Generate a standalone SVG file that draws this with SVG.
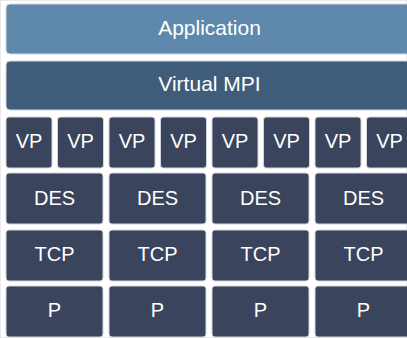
<svg xmlns="http://www.w3.org/2000/svg" width="407" height="338" viewBox="0 0 407 338">
<style>
rect{stroke:#d3d6dc;stroke-width:1}
.app{fill:#5E89AD}
.mpi{fill:#3F5D7A}
.blk{fill:#3A445C}
text{font-family:"Liberation Sans",Arial,Helvetica,sans-serif;fill:#ffffff;text-anchor:middle}
.big{font-size:21px}
.sm{font-size:20px}
</style>
<rect width="407" height="338" fill="#ffffff" stroke="none"/>
<g id="application"><rect class="app" x="6" y="4" width="407" height="50" rx="4"/><text class="big" x="209.5" y="34.5">Application</text></g>
<g id="virtual-mpi"><rect class="mpi" x="6" y="61" width="407" height="49" rx="4"/><text class="big" x="209.5" y="91">Virtual MPI</text></g>
<g id="vp1"><rect class="blk" x="6" y="117" width="46" height="51" rx="3"/><text class="sm" x="29" y="148">VP</text></g>
<g id="vp2"><rect class="blk" x="57.5" y="117" width="46" height="51" rx="3"/><text class="sm" x="80.5" y="148">VP</text></g>
<g id="vp3"><rect class="blk" x="109" y="117" width="46" height="51" rx="3"/><text class="sm" x="132" y="148">VP</text></g>
<g id="vp4"><rect class="blk" x="160.5" y="117" width="46" height="51" rx="3"/><text class="sm" x="183.5" y="148">VP</text></g>
<g id="vp5"><rect class="blk" x="212" y="117" width="46" height="51" rx="3"/><text class="sm" x="235" y="148">VP</text></g>
<g id="vp6"><rect class="blk" x="263.5" y="117" width="46" height="51" rx="3"/><text class="sm" x="286.5" y="148">VP</text></g>
<g id="vp7"><rect class="blk" x="315" y="117" width="46" height="51" rx="3"/><text class="sm" x="338" y="148">VP</text></g>
<g id="vp8"><rect class="blk" x="366.5" y="117" width="46" height="51" rx="3"/><text class="sm" x="389.5" y="148">VP</text></g>
<g id="des1"><rect class="blk" x="6" y="173" width="97" height="51" rx="3"/><text class="sm" x="54.5" y="204.5">DES</text></g>
<g id="des2"><rect class="blk" x="109" y="173" width="97" height="51" rx="3"/><text class="sm" x="157.5" y="204.5">DES</text></g>
<g id="des3"><rect class="blk" x="212" y="173" width="97" height="51" rx="3"/><text class="sm" x="260.5" y="204.5">DES</text></g>
<g id="des4"><rect class="blk" x="315" y="173" width="97" height="51" rx="3"/><text class="sm" x="363.5" y="204.5">DES</text></g>
<g id="tcp1"><rect class="blk" x="6" y="230" width="97" height="51" rx="3"/><text class="sm" x="54.5" y="261">TCP</text></g>
<g id="tcp2"><rect class="blk" x="109" y="230" width="97" height="51" rx="3"/><text class="sm" x="157.5" y="261">TCP</text></g>
<g id="tcp3"><rect class="blk" x="212" y="230" width="97" height="51" rx="3"/><text class="sm" x="260.5" y="261">TCP</text></g>
<g id="tcp4"><rect class="blk" x="315" y="230" width="97" height="51" rx="3"/><text class="sm" x="363.5" y="261">TCP</text></g>
<g id="p1"><rect class="blk" x="6" y="286" width="97" height="51" rx="3"/><text class="sm" x="54.5" y="317">P</text></g>
<g id="p2"><rect class="blk" x="109" y="286" width="97" height="51" rx="3"/><text class="sm" x="157.5" y="317">P</text></g>
<g id="p3"><rect class="blk" x="212" y="286" width="97" height="51" rx="3"/><text class="sm" x="260.5" y="317">P</text></g>
<g id="p4"><rect class="blk" x="315" y="286" width="97" height="51" rx="3"/><text class="sm" x="363.5" y="317">P</text></g>
<g id="connectors"/>
</svg>
